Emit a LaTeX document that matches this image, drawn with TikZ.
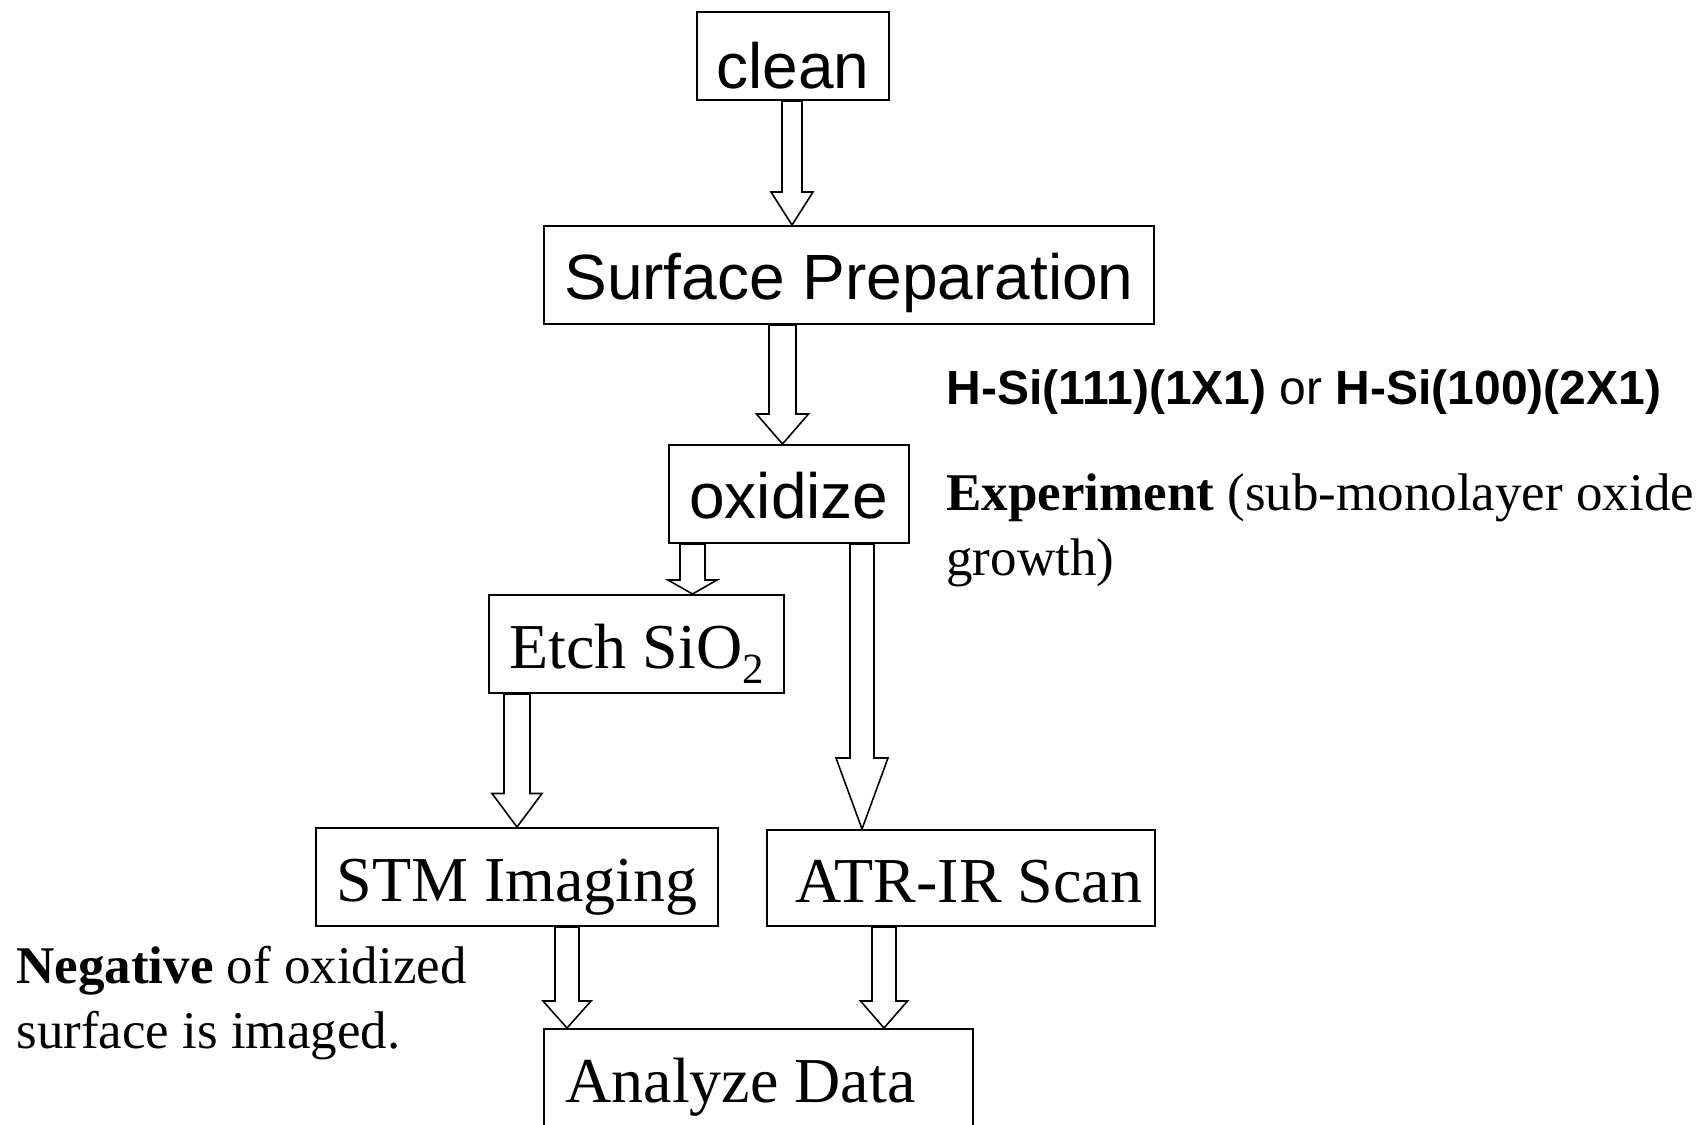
\documentclass[tikz,border=0pt]{standalone}
\usepackage{fontspec}
\setmainfont{Liberation Serif}
\newfontfamily\arialfont{Liberation Sans}
\usetikzlibrary{calc}
\newcommand\blockarrow[6]{%
  \coordinate (ba-top) at (#1.south -| #3);
  \coordinate (ba-tip) at (#2.north -| #3);
  \coordinate (ba-hb) at ([yshift=#6]ba-tip);
  \draw[barrow] ([xshift=-#4]ba-top) -- ([xshift=-#4]ba-hb) -- ([xshift=-#5]ba-hb) -- (ba-tip) -- ([xshift=#5]ba-hb) -- ([xshift=#4]ba-hb) -- ([xshift=#4]ba-top) -- cycle;
}
\tikzset{
  boxbase/.style={draw, line width=1pt, inner sep=0pt, anchor=north west, text height=36.5pt, text depth=12.5pt},
  sbox/.style={boxbase, font=\arialfont\fontsize{32}{38}\selectfont},
  rbox/.style={boxbase, font=\fontsize{32}{38}\selectfont},
  barrow/.style={draw, line width=0.8pt, fill=white, line join=miter},
  note/.style={inner sep=0pt, anchor=base west, align=left}
}
\begin{document}
\begin{tikzpicture}[x=0.5pt, y=-0.5pt]
\useasboundingbox (0,0) rectangle (1700,1124);
% boxes
\node[sbox, minimum width=96pt, text height=38pt, text depth=6pt] (clean) at (696,11) {clean};
\node[sbox, minimum width=305pt] (surf) at (543,225) {Surface Preparation};
\node[sbox, minimum width=120pt] (ox) at (668,444) {oxidize};
\node[rbox, minimum width=147.5pt] (etch) at (488,594) {Etch SiO\raisebox{-7.5pt}{\fontsize{21.5}{22}\selectfont 2}};
\node[rbox, minimum width=201pt] (stm) at (315,827) {STM Imaging};
\node[rbox, minimum width=194pt, text height=36pt, text depth=12pt] (atr) at (766,829) {\hspace*{8pt}ATR-IR Scan};
\node[rbox, minimum width=214.5pt] (ana) at (543,1028) {Analyze Data\hspace*{18pt}};
% annotations (base anchor = baseline of the last line)
\node[note, font=\arialfont\fontsize{24}{28}\selectfont] (hsi) at (946,404) {\textbf{H-Si(111)(1X1)} or \textbf{H-Si(100)(2X1)}};
\node[note, font=\fontsize{26.5}{32.5}\selectfont] (exp) at (946,575) {\textbf{Experiment} (sub-monolayer oxide\\growth)};
\node[note, font=\fontsize{26.5}{32.5}\selectfont] (neg) at (16,1048) {\textbf{Negative} of oxidized\\surface is imaged.};
% arrow axes
\coordinate (c1) at (792,0);
\coordinate (c2) at (782.5,0);
\coordinate (c3) at (692.5,0);
\coordinate (c4) at (862,0);
\coordinate (c5) at (517,0);
\coordinate (c6) at (567,0);
\coordinate (c7) at (884,0);
% block arrows
\blockarrow{clean}{surf}{c1}{5pt}{10.5pt}{16.5pt}
\blockarrow{surf}{ox}{c2}{6.75pt}{13pt}{15pt}
\blockarrow{ox}{etch}{c3}{6.25pt}{12.25pt}{7pt}
\blockarrow{ox}{atr}{c4}{6pt}{13pt}{35.5pt}
\blockarrow{etch}{stm}{c5}{6.5pt}{12.5pt}{16.75pt}
\blockarrow{stm}{ana}{c6}{6pt}{12pt}{13.5pt}
\blockarrow{atr}{ana}{c7}{6pt}{11.75pt}{13.5pt}
\end{tikzpicture}
\end{document}
